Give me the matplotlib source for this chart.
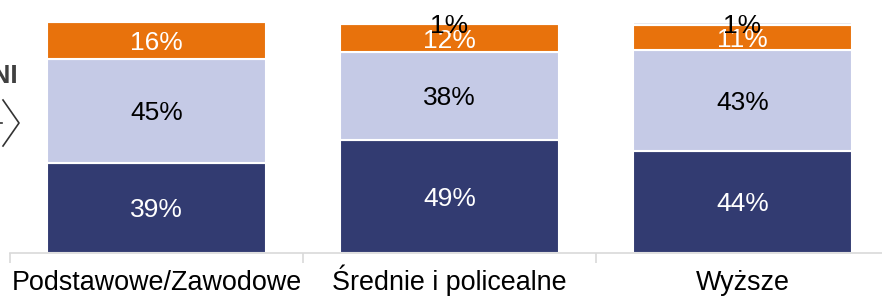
import matplotlib
matplotlib.use("Agg")
import matplotlib.pyplot as plt
from matplotlib.lines import Line2D
import numpy as np

plt.rcParams['font.family'] = ['Liberation Sans', 'DejaVu Sans']

categories = ["Podstawowe/Zawodowe", "Średnie i policealne", "Wyższe"]
seg_dark = [39, 49, 44.3]
seg_light = [45, 38, 43.4]
seg_orange = [16, 12, 11.2]
seg_grey = [0, 1, 1.1]

colors = ["#323B71", "#C5CAE6", "#E8720C", "#E6E9EE"]
text_colors = ["white", "black", "white", "black"]

W, H = 882, 298
fig = plt.figure(figsize=(W / 100, H / 100), dpi=100)
left_px, right_px = 10, 889
bottom_px, top_px = 253, 22
ax = fig.add_axes([left_px / W, (H - bottom_px) / H,
                   (right_px - left_px) / W, (bottom_px - top_px) / H])

x = np.arange(len(categories))
series = [seg_dark, seg_light, seg_orange, seg_grey]
bottom = np.zeros(len(categories))
for vals, c, tc in zip(series, colors, text_colors):
    vals = np.array(vals, dtype=float)
    ax.bar(x, vals, bottom=bottom, width=0.75, color=c,
           edgecolor="white", linewidth=1.5, zorder=2)
    for xi, v, b in zip(x, vals, bottom):
        if v > 0:
            ax.text(xi, b + v / 2, f"{round(v):d}%", ha="center", va="center_baseline",
                    fontsize=19, color=tc, zorder=3)
    bottom += vals

ax.set_xlim(-0.5, len(categories) - 0.5)
ax.set_ylim(0, 100)
for s in ["top", "right", "left"]:
    ax.spines[s].set_visible(False)
ax.spines["bottom"].set_color("#D9D9D9")
ax.spines["bottom"].set_linewidth(1.2)
ax.set_yticks([])
ax.set_xticks(x)
ax.set_xticklabels(categories, fontsize=19.4)
for lbl in ax.get_xticklabels():
    lbl.set_verticalalignment("baseline")
ax.tick_params(axis="x", which="major", length=0, pad=27)
ax.set_xticks(np.arange(-0.5, len(categories), 1.0), minor=True)
ax.tick_params(axis="x", which="minor", length=7, width=1.2, color="#D9D9D9")

# partial side label and chevron (cropped from the original slide)
fig.text(18 / W, (H - 74) / H, "MĘŻCZYŹNI", ha="right", va="center",
         fontsize=19, fontweight="bold", color="#404040")
px = lambda xp, yp: (xp / W, (H - yp) / H)
p1, p2, p3 = px(3, 100), px(19, 123), px(3, 146)
fig.add_artist(Line2D([p1[0], p2[0], p3[0]], [p1[1], p2[1], p3[1]],
                      transform=fig.transFigure, color="#333333", linewidth=1.2))
q1, q2 = px(0, 123), px(2, 123)
fig.add_artist(Line2D([q1[0], q2[0]], [q1[1], q2[1]],
                      transform=fig.transFigure, color="#333333", linewidth=1.2))

fig.savefig("out.png", dpi=100)
